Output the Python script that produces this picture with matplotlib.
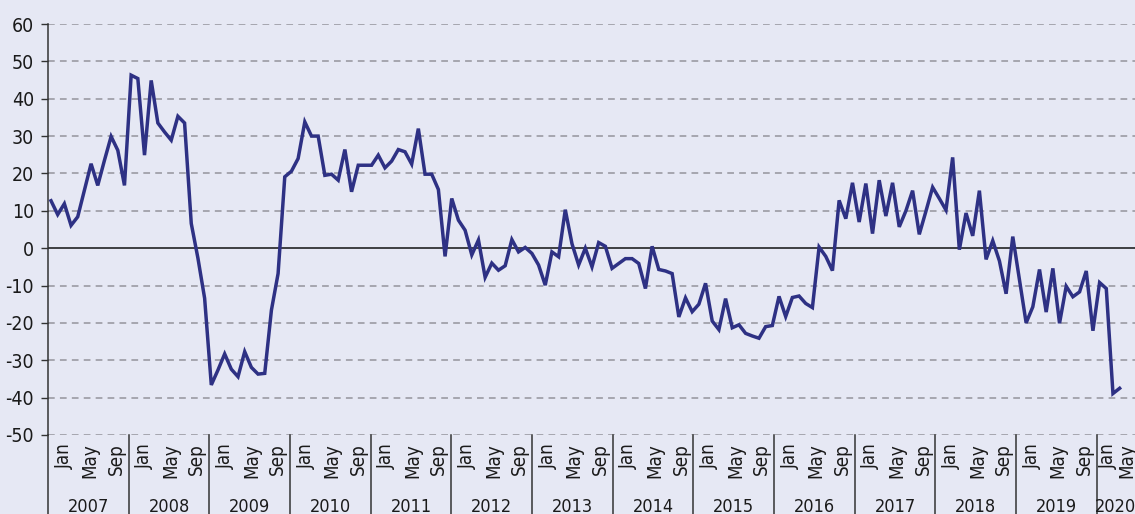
import numpy as np
import matplotlib
matplotlib.use('Agg')
import matplotlib.pyplot as plt
import matplotlib.transforms as mtransforms

# monthly values, Jan 2007 - May 2020
v2007 = [12.7, 9.0, 11.9, 6.1, 8.4, 15.5, 22.6, 16.8, 23.5, 29.9, 26.2, 16.8]
v2008 = [46.3, 45.4, 24.9, 44.9, 33.5, 31.1, 28.9, 35.3, 33.5, 6.6, -2.7, -13.4]
v2009 = [-36.6, -32.6, -28.3, -32.4, -34.4, -27.7, -31.9, -33.7, -33.5, -16.6, -6.8, 19.1]
v2010 = [20.6, 24.0, 33.8, 30.0, 30.0, 19.5, 19.8, 18.2, 26.4, 15.1, 22.2, 22.2]
v2011 = [22.2, 24.9, 21.5, 23.3, 26.4, 25.8, 22.5, 32.0, 19.8, 19.8, 15.7, -2.2]
v2012 = [13.3, 7.5, 4.8, -1.8, 2.2, -7.8, -4.0, -5.9, -4.7, 2.3, -1.0, 0.2]
v2013 = [-1.4, -4.5, -9.9, -1.0, -2.3, 10.3, 1.2, -4.5, 0.0, -5.0, 1.5, 0.5]
v2014 = [-5.4, -4.1, -2.8, -2.8, -4.1, -10.8, 0.5, -5.7, -6.1, -6.8, -18.4, -13.3]
v2015 = [-17.0, -15.0, -9.4, -19.5, -21.8, -13.5, -21.3, -20.5, -22.8, -23.5, -24.1, -21.0]
v2016 = [-20.7, -12.9, -18.3, -13.2, -12.8, -14.8, -15.9, 0.3, -2.2, -6.0, 12.8, 7.9]
v2017 = [17.5, 7.0, 17.3, 3.9, 18.2, 8.6, 17.5, 5.7, 10.0, 15.4, 3.7, 9.9]
v2018 = [16.3, 13.3, 10.2, 24.3, -0.4, 9.4, 3.3, 15.4, -3.0, 2.0, -3.4, -12.2]
v2019 = [3.1, -8.5, -20.0, -15.7, -5.7, -17.1, -5.4, -20.1, -10.2, -13.0, -11.7, -6.1]
v2020 = [-22.1, -9.2, -10.8, -38.9, -37.5]

years = ['2007', '2008', '2009', '2010', '2011', '2012', '2013',
         '2014', '2015', '2016', '2017', '2018', '2019', '2020']
month_labels = ['Jan', 'May', 'Sep']
month_labels_2020 = ['Jan', 'May']
yticks = [-50, -40, -30, -20, -10, 0, 10, 20, 30, 40, 50, 60]

values = np.array(v2007 + v2008 + v2009 + v2010 + v2011 + v2012 + v2013 +
                  v2014 + v2015 + v2016 + v2017 + v2018 + v2019 + v2020)
x = np.arange(len(values))

bg = '#e6e8f4'
line_col = '#2e3184'
txt = '#1a1a1a'
plt.rcParams['font.family'] = ['DejaVu Sans']
plt.rcParams['font.stretch'] = 'condensed'
plt.rcParams['axes.unicode_minus'] = False

fig = plt.figure(figsize=(11.35, 5.14), dpi=100, facecolor=bg)
ax = fig.add_axes([48 / 1135, 79 / 514, 1087 / 1135, 411 / 514])
ax.set_facecolor(bg)

ax.set_ylim(-50, 60)
ax.set_xlim(-0.45, 162.3)
ax.set_yticks(yticks)
ax.set_yticklabels([str(t) for t in yticks])
ax.tick_params(axis='y', length=5, width=1, color='#333333', pad=5,
               labelsize=14, labelcolor=txt)
ax.set_xticks([])

for s in ['top', 'right', 'bottom']:
    ax.spines[s].set_visible(False)
ax.spines['left'].set_color('#333333')
ax.spines['left'].set_linewidth(1.1)

for t in yticks:
    if t == 0:
        ax.axhline(0, color='#111111', lw=1.1, zorder=2)
    else:
        ax.axhline(t, color='#94949c', lw=1.1, ls=(0, (4.4, 3.4)), zorder=1)

ax.plot(x, values, color=line_col, lw=2.5, zorder=3, solid_joinstyle='miter')

# category axis: year boxes with month labels
trans = mtransforms.blended_transform_factory(ax.transData, ax.transAxes)
yw = 12.08
y_bottom = -80 / 411
for k, yr in enumerate(years):
    sep = -0.45 + k * yw
    ax.plot([sep, sep], [0, y_bottom], transform=trans, color='#333333',
            lw=1.1, clip_on=False)
    if yr == '2020':
        offs = [1.65, 4.5]
        labs = month_labels_2020
        yc = sep + 2.8
    else:
        offs = [2.4, 6.3, 10.2]
        labs = month_labels
        yc = sep + yw / 2
    for lab, o in zip(labs, offs):
        ax.text(sep + o, -8 / 411, lab, transform=trans, rotation=90,
                ha='center', va='top', fontsize=13.5, color=txt)
    ax.text(yc, -77 / 411, yr, transform=trans, ha='center', va='baseline',
            fontsize=13, color=txt)

fig.savefig('out.png', dpi=100, facecolor=bg)
